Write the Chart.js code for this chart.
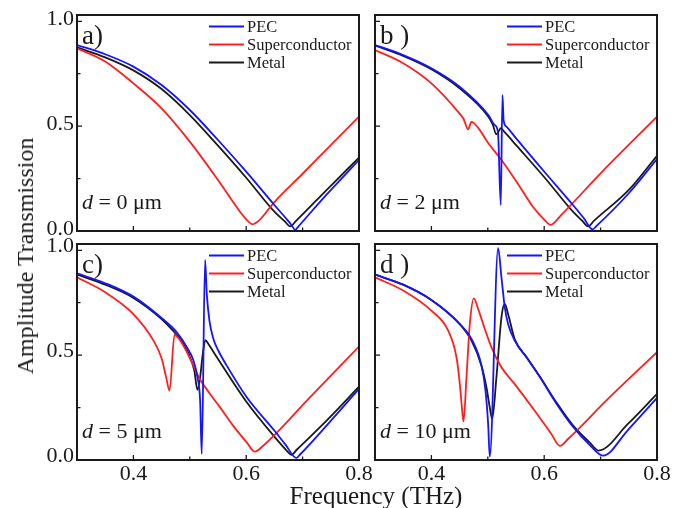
<!DOCTYPE html>
<html>
<head>
<meta charset="utf-8">
<script src="https://cdn.jsdelivr.net/npm/chart.js@4/dist/chart.umd.min.js"></script>
<style>
  html, body { margin: 0; padding: 0; background: #fff; }
  #fig { position: relative; width: 694px; height: 508px; overflow: hidden;
         font-family: "Liberation Serif", "Times New Roman", serif; color: #1a1a1a; }
  #fig canvas { position: absolute; }
  .ytitle { position: absolute; left: 25px; top: 256px; font-size: 24px; line-height: 1;
            white-space: nowrap; transform: translate(-50%, -50%) rotate(-90deg); }
  .xtitle { position: absolute; left: 376px; top: 483px; font-size: 25px; line-height: 1;
            white-space: nowrap; transform: translateX(-50%); }
</style>
</head>
<body>
<div id="fig">
  <canvas id="panelA" width="382" height="256" style="left:7px;top:5px"></canvas>
  <canvas id="panelB" width="382" height="256" style="left:305px;top:5px"></canvas>
  <canvas id="panelC" width="382" height="256" style="left:7px;top:234px"></canvas>
  <canvas id="panelD" width="382" height="256" style="left:305px;top:234px"></canvas>
  <div class="ytitle">Amplitude Transmission</div>
  <div class="xtitle">Frequency (THz)</div>
</div>
<script>
// ---- axis ticks ----
const xTickValues = [0.4, 0.6, 0.8];
const xMinorTicks = [0.5, 0.7];
const yTickValues = [0.0, 0.5, 1.0];
const yMinorTicks = [0.25, 0.75];

// ---- series and panel labels ----
const seriesNames = ['PEC', 'Superconductor', 'Metal'];
const panelLabels = ['a)', 'b )', 'c)', 'd )'];
const spacings = [0, 2, 5, 10];   // d in µm

// ---- panel a : d = 0 µm ----
const aPecX = [0.300, 0.350, 0.400, 0.450, 0.500, 0.550, 0.600, 0.650, 0.670, 0.680, 0.687, 0.692, 0.742, 0.800];
const aPecY = [0.887, 0.843, 0.784, 0.696, 0.577, 0.434, 0.283, 0.124, 0.062, 0.030, 0.005, 0.020, 0.172, 0.339];
const aSupX = [0.300, 0.350, 0.400, 0.450, 0.500, 0.550, 0.589, 0.604, 0.611, 0.622, 0.650, 0.700, 0.750, 0.800];
const aSupY = [0.871, 0.808, 0.704, 0.585, 0.426, 0.243, 0.092, 0.045, 0.032, 0.048, 0.138, 0.273, 0.410, 0.545];
const aMetX = [0.300, 0.350, 0.400, 0.450, 0.500, 0.550, 0.600, 0.650, 0.668, 0.678, 0.688, 0.742, 0.800];
const aMetY = [0.876, 0.828, 0.766, 0.677, 0.553, 0.407, 0.254, 0.092, 0.047, 0.022, 0.047, 0.194, 0.350];

// ---- panel b : d = 2 µm ----
const bPecX = [0.300, 0.350, 0.400, 0.450, 0.501, 0.512, 0.518, 0.523, 0.526, 0.528, 0.533, 0.551, 0.601, 0.651, 0.670, 0.686, 0.692, 0.750, 0.800];
const bPecY = [0.887, 0.839, 0.776, 0.688, 0.553, 0.506, 0.471, 0.124, 0.649, 0.529, 0.498, 0.439, 0.280, 0.124, 0.062, 0.008, 0.022, 0.180, 0.343];
const bSupX = [0.300, 0.350, 0.400, 0.450, 0.457, 0.465, 0.471, 0.483, 0.501, 0.522, 0.551, 0.580, 0.601, 0.611, 0.630, 0.700, 0.800];
const bSupY = [0.863, 0.800, 0.704, 0.560, 0.535, 0.485, 0.520, 0.492, 0.418, 0.347, 0.235, 0.116, 0.052, 0.029, 0.076, 0.275, 0.545];
const bMetX = [0.300, 0.350, 0.400, 0.450, 0.501, 0.509, 0.515, 0.5195, 0.523, 0.530, 0.551, 0.601, 0.651, 0.667, 0.678, 0.688, 0.750, 0.800];
const bMetY = [0.884, 0.835, 0.771, 0.680, 0.545, 0.506, 0.461, 0.477, 0.490, 0.471, 0.407, 0.254, 0.092, 0.050, 0.022, 0.048, 0.196, 0.359];

// ---- panel c : d = 5 µm ----
const cPecX = [0.300, 0.350, 0.400, 0.450, 0.477, 0.495, 0.5065, 0.5136, 0.5183, 0.5212, 0.5271, 0.5301, 0.5348, 0.5419, 0.5507, 0.5655, 0.601, 0.651, 0.670, 0.689, 0.695, 0.7425, 0.800];
const cPecY = [0.890, 0.843, 0.779, 0.677, 0.609, 0.537, 0.474, 0.394, 0.283, 0.029, 0.954, 0.792, 0.665, 0.577, 0.521, 0.450, 0.299, 0.137, 0.072, 0.010, 0.025, 0.164, 0.339];
const cSupX = [0.300, 0.350, 0.400, 0.4357, 0.4504, 0.4581, 0.4640, 0.4729, 0.4888, 0.5035, 0.5177, 0.536, 0.5537, 0.5767, 0.601, 0.615, 0.630, 0.713, 0.800];
const cSupY = [0.871, 0.800, 0.696, 0.569, 0.482, 0.394, 0.331, 0.596, 0.545, 0.466, 0.386, 0.315, 0.251, 0.164, 0.084, 0.040, 0.068, 0.299, 0.541];
const cMetX = [0.300, 0.350, 0.400, 0.450, 0.471, 0.483, 0.498, 0.508, 0.5136, 0.5183, 0.523, 0.5277, 0.533, 0.548, 0.601, 0.651, 0.670, 0.6805, 0.690, 0.7425, 0.800];
const cMetY = [0.884, 0.836, 0.773, 0.672, 0.614, 0.577, 0.506, 0.426, 0.334, 0.394, 0.506, 0.572, 0.553, 0.490, 0.275, 0.108, 0.050, 0.025, 0.050, 0.188, 0.350];

// ---- panel d : d = 10 µm ----
const dPecX = [0.300, 0.350, 0.400, 0.450, 0.4711, 0.4888, 0.4959, 0.5006, 0.5035, 0.5183, 0.5242, 0.5301, 0.536, 0.5478, 0.5684, 0.592, 0.6215, 0.651, 0.6805, 0.7041, 0.7484, 0.800];
const dPecY = [0.884, 0.836, 0.763, 0.649, 0.577, 0.450, 0.331, 0.172, 0.016, 1.010, 0.871, 0.728, 0.649, 0.569, 0.490, 0.397, 0.270, 0.159, 0.072, 0.021, 0.143, 0.296];
const dSupX = [0.300, 0.350, 0.400, 0.4298, 0.4445, 0.4504, 0.4546, 0.4569, 0.4622, 0.4681, 0.4752, 0.4829, 0.4947, 0.5065, 0.5242, 0.5478, 0.5832, 0.6127, 0.628, 0.6422, 0.713, 0.800];
const dSupY = [0.871, 0.808, 0.712, 0.617, 0.490, 0.362, 0.235, 0.184, 0.394, 0.649, 0.771, 0.720, 0.625, 0.537, 0.442, 0.362, 0.235, 0.124, 0.067, 0.100, 0.291, 0.514];
const dMetX = [0.300, 0.350, 0.400, 0.450, 0.4711, 0.4888, 0.4976, 0.5035, 0.5077, 0.5153, 0.5242, 0.5301, 0.536, 0.5478, 0.5684, 0.592, 0.6215, 0.651, 0.6805, 0.6965, 0.7484, 0.800];
const dMetY = [0.884, 0.836, 0.763, 0.649, 0.569, 0.450, 0.347, 0.251, 0.196, 0.394, 0.680, 0.744, 0.696, 0.575, 0.492, 0.399, 0.275, 0.165, 0.084, 0.045, 0.172, 0.315];

const COLORS = ['#1414ff', '#ff1f1f', '#1a1a1a'];
const INK = '#1a1a1a';
const SERIF = '"Liberation Serif", "Times New Roman", serif';

const zip = (xs, ys) => xs.map((x, i) => ({ x, y: ys[i] }));

// Box frame with inward tick marks
const framePlugin = {
  id: 'frame',
  afterDatasetsDraw(chart) {
    const { ctx, chartArea: a, scales: { x, y } } = chart;
    ctx.save();
    ctx.strokeStyle = INK;
    ctx.lineWidth = 1.3;
    ctx.beginPath();
    const xt = (v, len) => { const p = x.getPixelForValue(v); ctx.moveTo(p, a.bottom); ctx.lineTo(p, a.bottom - len); };
    const yt = (v, len) => { const p = y.getPixelForValue(v); ctx.moveTo(a.left, p); ctx.lineTo(a.left + len, p); };
    xTickValues.forEach(v => xt(v, 5));
    xMinorTicks.forEach(v => xt(v, 3.5));
    yTickValues.forEach(v => yt(v, 5));
    yMinorTicks.forEach(v => yt(v, 3.5));
    ctx.stroke();
    ctx.lineWidth = 2;
    ctx.strokeRect(a.left, a.top, a.width, a.height);
    ctx.restore();
  }
};

// Panel tag, spacing note and the line legend
const notesPlugin = {
  id: 'notes',
  afterDraw(chart, args, opts) {
    const { ctx, chartArea: a } = chart;
    ctx.save();
    ctx.fillStyle = INK;
    ctx.textBaseline = 'alphabetic';
    ctx.textAlign = 'left';
    // panel tag
    ctx.font = '27px ' + SERIF;
    ctx.fillText(opts.tag, a.left + 5, a.top + 29);
    // spacing note
    ctx.font = 'italic 22px ' + SERIF;
    const nx = a.left + 5, ny = a.top + 194;
    ctx.fillText('d', nx, ny);
    const w = ctx.measureText('d').width;
    ctx.font = '22px ' + SERIF;
    ctx.fillText(' = ' + opts.spacing + ' \u03bcm', nx + w, ny);
    // legend
    ctx.font = '16.5px ' + SERIF;
    ctx.textBaseline = 'middle';
    chart.data.datasets.forEach((ds, i) => {
      const ly = a.top + 11.5 + i * 18;
      ctx.strokeStyle = ds.borderColor;
      ctx.lineWidth = 2;
      ctx.beginPath();
      ctx.moveTo(a.left + 132, ly);
      ctx.lineTo(a.left + 167, ly);
      ctx.stroke();
      ctx.fillText(ds.label, a.left + 170, ly + 1);
    });
    ctx.restore();
  }
};

function fitBox(size, isX) {
  return (s) => {
    if (isX) s.height = size; else s.width = size;
    s.paddingLeft = s.paddingRight = s.paddingTop = s.paddingBottom = 0;
  };
}

function makePanel(id, series, tag, spacing, showX, showY) {
  const datasets = series.map((s, i) => ({
    label: seriesNames[i],
    data: zip(s[0], s[1]),
    borderColor: COLORS[i],
    borderWidth: 1.8,
    pointRadius: 0,
    fill: false,
    cubicInterpolationMode: 'monotone'
  }));
  new Chart(document.getElementById(id), {
    type: 'line',
    data: { datasets },
    options: {
      responsive: false,
      animation: false,
      devicePixelRatio: 1,
      layout: { padding: { top: 10, right: 30, left: 0, bottom: 0 } },
      plugins: { legend: { display: false }, tooltip: { enabled: false }, notes: { tag, spacing } },
      scales: {
        x: {
          type: 'linear', min: 0.3, max: 0.8,
          grid: { display: false, drawTicks: false },
          border: { display: false },
          ticks: { display: showX, color: INK, padding: 1, maxRotation: 0, autoSkip: false,
                   font: { family: SERIF, size: 22 }, callback: v => v.toFixed(1) },
          afterBuildTicks: s => { s.ticks = xTickValues.map(v => ({ value: v })); },
          afterFit: fitBox(30, true)
        },
        y: {
          type: 'linear', min: 0, max: 1.03,
          grid: { display: false, drawTicks: false },
          border: { display: false },
          ticks: { display: showY, color: INK, padding: 3, autoSkip: false,
                   labelOffset: showX ? -4 : -2,
                   font: { family: SERIF, size: 22 }, callback: v => v.toFixed(1) },
          afterBuildTicks: s => { s.ticks = yTickValues.map(v => ({ value: v })); },
          afterFit: fitBox(70, false)
        }
      }
    },
    plugins: [framePlugin, notesPlugin]
  });
}

makePanel('panelA', [[aPecX, aPecY], [aSupX, aSupY], [aMetX, aMetY]], panelLabels[0], spacings[0], false, true);
makePanel('panelB', [[bPecX, bPecY], [bSupX, bSupY], [bMetX, bMetY]], panelLabels[1], spacings[1], false, false);
makePanel('panelC', [[cPecX, cPecY], [cSupX, cSupY], [cMetX, cMetY]], panelLabels[2], spacings[2], true, true);
makePanel('panelD', [[dPecX, dPecY], [dSupX, dSupY], [dMetX, dMetY]], panelLabels[3], spacings[3], true, false);
</script>
</body>
</html>
